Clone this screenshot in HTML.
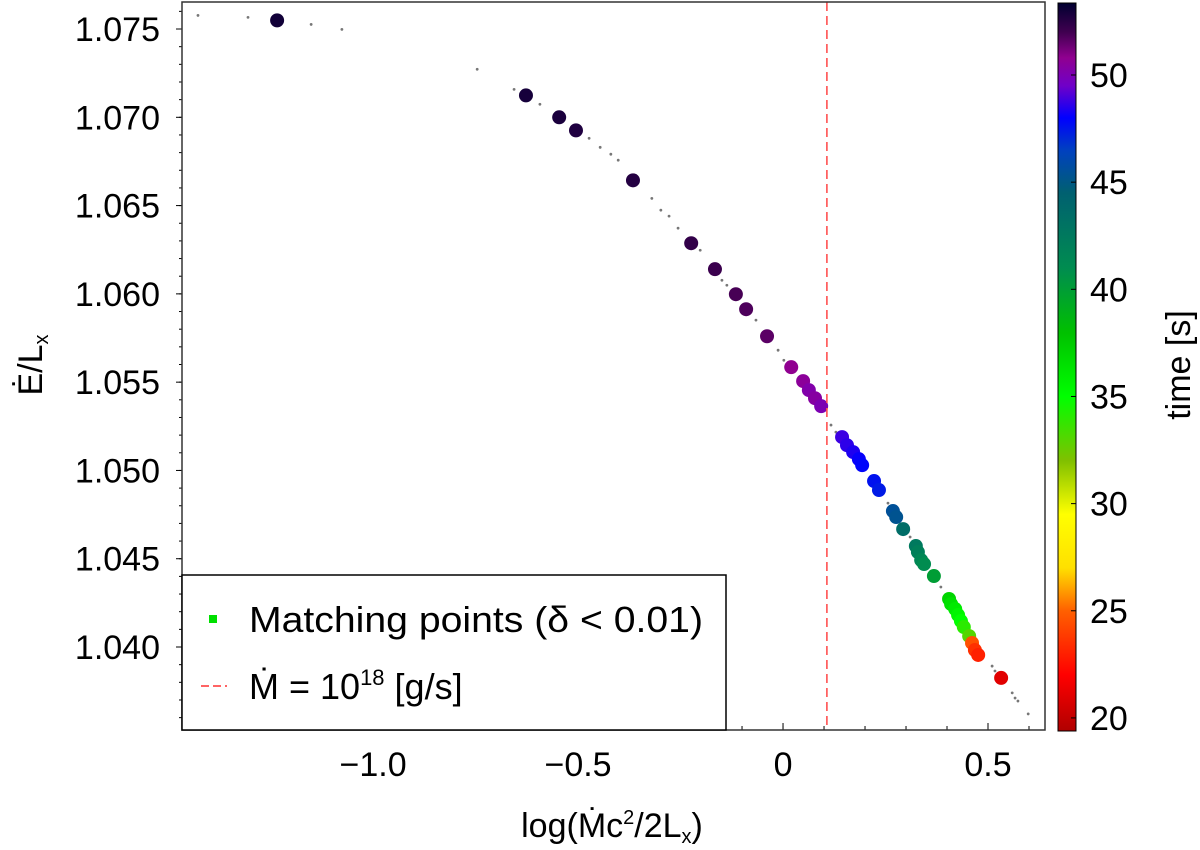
<!DOCTYPE html>
<html><head><meta charset="utf-8"><style>
html,body{margin:0;padding:0;background:#fff;}
svg{display:block;font-family:"Liberation Sans",sans-serif;}
</style></head><body>
<svg id="chart" width="1200" height="850" viewBox="0 0 1200 850" xmlns="http://www.w3.org/2000/svg">
<defs>
<linearGradient id="cmap" x1="0" y1="1" x2="0" y2="0"></linearGradient>
<clipPath id="plotclip"><rect x="182" y="2" width="863" height="728"/></clipPath>
</defs>
<g id="plot"></g>
</svg>
<script>
const xTicks=[-1.0,-0.5,0,0.5];
const xTickLabels=["\u22121.0","\u22120.5","0","0.5"];
const yTicks=[1.040,1.045,1.050,1.055,1.060,1.065,1.070,1.075];
const yTickLabels=["1.040","1.045","1.050","1.055","1.060","1.065","1.070","1.075"];
const cTicks=[20,25,30,35,40,45,50];
const cTickLabels=["20","25","30","35","40","45","50"];
const ptX=[-1.234,-0.627,-0.546,-0.505,-0.366,-0.224,-0.166,-0.115,-0.090,-0.039,0.020,0.049,0.063,0.078,0.093,0.144,0.156,0.171,0.185,0.193,0.222,0.234,0.268,0.276,0.293,0.324,0.329,0.337,0.344,0.368,0.405,0.410,0.420,0.427,0.434,0.441,0.454,0.461,0.468,0.476,0.532];
const ptY=[1.07549,1.07124,1.07000,1.06926,1.06643,1.06287,1.06140,1.05998,1.05913,1.05760,1.05585,1.05506,1.05455,1.05409,1.05364,1.05189,1.05143,1.05104,1.05064,1.05030,1.04940,1.04889,1.04770,1.04736,1.04668,1.04572,1.04538,1.04492,1.04470,1.04402,1.04272,1.04243,1.04215,1.04181,1.04147,1.04113,1.04062,1.04023,1.03983,1.03955,1.03825];
const ptT=[53.0,52.9,52.8,52.7,52.6,52.3,52.1,51.9,51.8,51.6,50.8,50.6,50.2,50.4,50.0,48.8,48.6,48.4,48.1,47.9,47.6,47.4,45.5,45.3,43.5,42.5,42.0,41.5,41.0,40.0,37.0,36.5,36.0,35.5,35.0,34.0,33.0,24.5,23.5,23.0,21.0];
const dotX=[-1.427,-1.305,-1.151,-1.076,-0.746,-0.656,-0.639,-0.593,-0.473,-0.446,-0.420,-0.402,-0.320,-0.298,-0.278,-0.256,-0.202,-0.149,-0.137,-0.066,-0.012,0.002,0.117,0.129,0.256,0.310,0.385,0.510,0.517,0.559,0.566,0.573,0.598];
const dotY=[1.07577,1.07566,1.07526,1.07498,1.07272,1.07158,1.07136,1.07074,1.06881,1.06830,1.06791,1.06757,1.06541,1.06474,1.06440,1.06372,1.06247,1.06077,1.06049,1.05851,1.05681,1.05624,1.05257,1.05217,1.04815,1.04623,1.04340,1.03892,1.03864,1.03740,1.03711,1.03694,1.03621];
const mdotLine=0.107;

const NS="http://www.w3.org/2000/svg";
const L=182,R=1045,T=2,B=730;
const xmin=-1.466,xmax=0.639,ymin=1.0353,ymax=1.07653;
const cmin=19.39,cmax=53.36,cbL=1058,cbR=1076,cbT=3,cbB=731;
function sx(v){return L+(v-xmin)/(xmax-xmin)*(R-L);}
function sy(v){return B-(v-ymin)/(ymax-ymin)*(B-T);}
function sc(v){return cbB-(v-cmin)/(cmax-cmin)*(cbB-cbT);}
const stopT=[19.39,22,25,27,29.5,32,35,38,41,44.5,46.5,48,49.5,50.8,52,53.36];
const stopC=[[176,0,0],[255,0,0],[255,96,0],[255,224,0],[255,255,0],[128,192,0],[0,255,0],[0,192,0],[0,140,80],[0,96,112],[0,64,192],[0,0,255],[112,0,200],[144,0,144],[64,0,80],[0,0,48]];
function rgb(c){return "rgb("+c.join(",")+")";}
function cmap(t){t=Math.max(cmin,Math.min(cmax,t));
for(let i=1;i<stopT.length;i++){if(t<=stopT[i]){const u=(t-stopT[i-1])/(stopT[i]-stopT[i-1]);
return rgb(stopC[i-1].map((c,k)=>Math.round(c+(stopC[i][k]-c)*u)));}}return rgb(stopC[stopC.length-1]);}
function mk(tag,attrs,parent,txt){const e=document.createElementNS(NS,tag);for(const k in attrs)e.setAttribute(k,attrs[k]);if(txt!==undefined)e.textContent=txt;parent.appendChild(e);return e;}
const grad=document.getElementById('cmap');
for(let i=0;i<stopT.length;i++)mk('stop',{offset:(stopT[i]-cmin)/(cmax-cmin),'stop-color':rgb(stopC[i])},grad);
const g=document.getElementById('plot');

const dl=mk('g',{'clip-path':'url(#plotclip)'},g);


for(let i=0;i<dotX.length;i++){const c=mk('circle',{cx:sx(dotX[i]),cy:sy(dotY[i]),r:1.4,fill:'#777'},dl);

}
for(let i=0;i<ptX.length;i++){const c=mk('circle',{cx:sx(ptX[i]),cy:sy(ptY[i]),r:7,fill:cmap(ptT[i])},dl);

}
const vl=mk('line',{x1:sx(mdotLine),x2:sx(mdotLine),y1:T,y2:B,stroke:'#ff5050','stroke-width':1.6,'stroke-dasharray':'9,5'},dl);



for(let i=0;i<xTicks.length;i++){const x=sx(xTicks[i]);mk('line',{x1:x,x2:x,y1:B,y2:B-7,stroke:'#000','stroke-width':1},g);
const t=mk('text',{x:x,y:776,'font-size':34,'text-anchor':'middle',fill:'#000'},g,xTickLabels[i]);

}
for(let v=-1.4;v<0.65;v+=0.1){const x=sx(v);if(x>L&&x<R)mk('line',{x1:x,x2:x,y1:B,y2:B-4,stroke:'#000','stroke-width':1},g);}
for(let i=0;i<yTicks.length;i++){const y=sy(yTicks[i]);mk('line',{x1:L,x2:L-6,y1:y,y2:y,stroke:'#000','stroke-width':1},g);
const t=mk('text',{x:160,y:y+12,'font-size':34,'text-anchor':'end',fill:'#000'},g,yTickLabels[i]);

}
for(let k=1036;k<=1076;k++){const y=sy(k/1000);if(y>T&&y<B)mk('line',{x1:L,x2:L-3,y1:y,y2:y,stroke:'#000','stroke-width':1},g);}

const fr=mk('rect',{x:L,y:T,width:R-L,height:B-T,fill:'none',stroke:'#333','stroke-width':1.5},g);



const lg=mk('g',{},g);


mk('rect',{x:182,y:575,width:544,height:155,fill:'#fff',stroke:'#000','stroke-width':1.5},lg);
const e1=mk('g',{},lg);


mk('rect',{x:209,y:615,width:8,height:8,fill:'#00e000'},e1);
mk('text',{x:249,y:632,'font-size':36,fill:'#000',textLength:454,lengthAdjust:'spacingAndGlyphs'},e1,'Matching points (\u03B4 < 0.01)');
const e2=mk('g',{},lg);


mk('line',{x1:201,x2:227,y1:686,y2:686,stroke:'#ff3030','stroke-width':1.5,'stroke-dasharray':'8,4'},e2);
const t2=mk('text',{x:249,y:699,'font-size':36,fill:'#000'},e2);
mk('tspan',{},t2,'M\u0307 = 10');
mk('tspan',{'font-size':22,dy:-14},t2,'18');
mk('tspan',{dy:14},t2,' [g/s]');

const xt=mk('text',{x:612,y:837,'font-size':34,'text-anchor':'middle',fill:'#000'},g);


mk('tspan',{},xt,'log(M\u0307c');mk('tspan',{'font-size':20,dy:-13},xt,'2');mk('tspan',{dy:13},xt,'/2L');mk('tspan',{'font-size':20,dy:6},xt,'x');mk('tspan',{dy:-6},xt,')');
const yt=mk('text',{x:0,y:0,'font-size':34,'text-anchor':'middle',fill:'#000',transform:'translate(42,365) rotate(-90)'},g);


mk('tspan',{},yt,'E\u0307/L');mk('tspan',{'font-size':20,dy:6},yt,'x');

const cb=mk('g',{},g);


mk('rect',{x:cbL,y:cbT,width:cbR-cbL,height:cbB-cbT,fill:'url(#cmap)',stroke:'#000','stroke-width':1},cb);
for(let i=0;i<cTicks.length;i++){const y=sc(cTicks[i]);mk('line',{x1:cbR,x2:cbR-5,y1:y,y2:y,stroke:'#000','stroke-width':1},cb);
const t=mk('text',{x:1090,y:y+12,'font-size':34,fill:'#000'},cb,cTickLabels[i]);

}
const ct=mk('text',{x:0,y:0,'font-size':34,'text-anchor':'middle',fill:'#000',transform:'translate(1190,365) rotate(-90)'},cb,'time [s]');


</script>
</body></html>
